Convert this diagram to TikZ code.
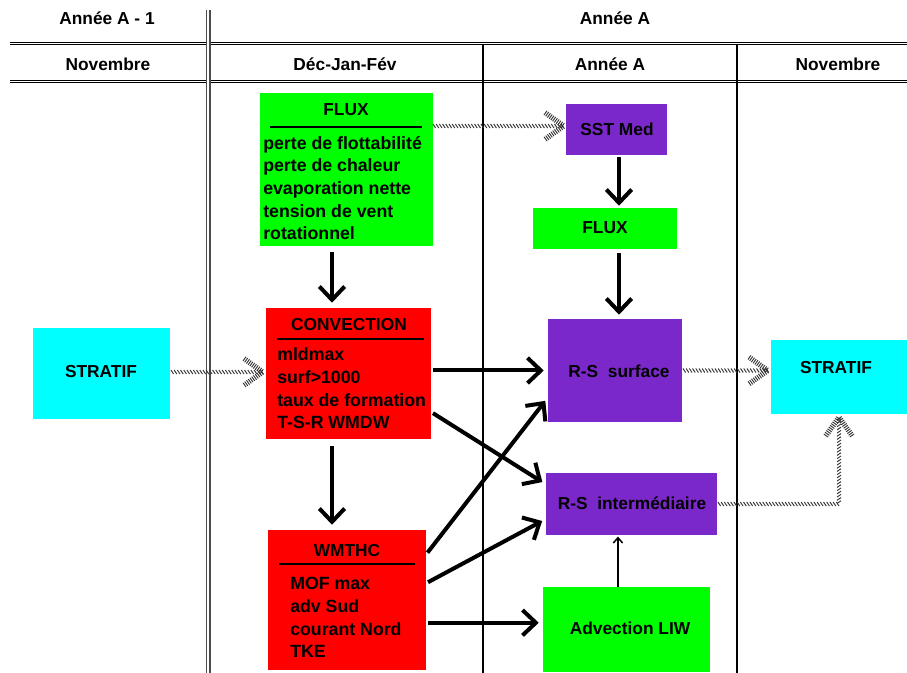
\documentclass[tikz,border=0pt]{standalone}
\usepackage{fontspec}
\setmainfont{Liberation Sans}
\usetikzlibrary{arrows.meta,decorations.markings,calc}
\definecolor{cgreen}{RGB}{0,255,0}
\definecolor{cred}{RGB}{255,0,0}
\definecolor{cpurple}{RGB}{123,40,202}
\definecolor{ccyan}{RGB}{0,255,255}

\begin{document}
\begin{tikzpicture}[x=0.75pt, y=-0.75pt,
		every node/.style={font=\fontsize{13}{17}\selectfont\bfseries, inner sep=0pt},
		boxsize/.style 2 args={minimum width=#1*0.75pt, minimum height=#2*0.75pt},
		greenbox/.style={shape=rectangle, fill=cgreen},
		redbox/.style={shape=rectangle, fill=cred},
		purplebox/.style={shape=rectangle, fill=cpurple},
		cyanbox/.style={shape=rectangle, fill=ccyan},
		head/.style={font=\fontsize{13}{15}\selectfont\bfseries},
		body/.style={anchor=west, align=left, font=\fontsize{13.3}{17}\selectfont\bfseries},
		rule/.style={line width=1.1pt},
		bigarrow/.style={line width=3pt, -{Straight Barb[length=10pt, width=19pt]}},
		thinarrow/.style={line width=1.1pt, -{Straight Barb[length=4pt, width=7pt]}},
		hatch/.style={decorate, decoration={markings,
			mark=between positions 0 and 1 step 2.4pt with {\draw[black!80, line width=0.7pt] (-1pt,1.5pt) -- (1pt,-1.5pt);},
			mark=at position 1 with {\draw[black!80, line width=4pt, dash pattern=on 0.7pt off 0.9pt] (-14pt,10pt) -- (0,0) -- (-14pt,-10pt);}}}
	]
			\useasboundingbox (0,0) rectangle (907,673);
			\draw[double, double distance=0.8pt, line width=0.6pt] (10,43.5) -- (907,43.5);
			\draw[double, double distance=0.8pt, line width=0.6pt] (10,81.5) -- (907,81.5);
			\draw[black!70, double, double distance=1.6pt, line width=0.9pt] (208.4,10) -- (208.4,673);
			\draw[line width=1pt] (483,44) -- (483,673);
			\draw[line width=1pt] (737,44) -- (737,673);
			\node[head](HAnPrev) at (107,18){Année A - 1};
			\node[head](HAn) at (615,18){Année A};
			\node[head](HNovPrev) at (108,64){Novembre};
			\node[head](HDJF) at (345,64){Déc-Jan-Fév};
			\node[head](HAnMid) at (610,64){Année A};
			\node[head](HNov) at (838,64){Novembre};
			\node[greenbox, boxsize={173}{153}](Flux) at (346.5,169.5){};
			\node(FluxT) at (346,110){FLUX};
			\node[body](FluxB) at (263,188){perte de flottabilité\\perte de chaleur\\evaporation nette\\tension de vent\\rotationnel};
			\draw[rule] (270,127) -- (422,127);
			\node[purplebox, boxsize={101}{51}](SST) at (616.5,129.5){};
			\node(SSTT) at (617,129){SST Med};
			\node[greenbox, boxsize={144}{41}](FluxS) at (605,228.5){};
			\node(FluxST) at (605,228){FLUX};
			\node[redbox, boxsize={165}{131}](Conv) at (348.5,373.5){};
			\node(ConvT) at (349,325){CONVECTION};
			\node[body](ConvB) at (277,388.5){mldmax\\surf>1000\\taux de formation\\T-S-R WMDW};
			\draw[rule] (277,339) -- (424,339);
			\node[cyanbox, boxsize={137}{91}](StratL) at (101.5,373.5){};
			\node(StratLT) at (101,372){STRATIF};
			\node[purplebox, boxsize={134}{103}](RsSurf) at (615,370.5){};
			\node(RsSurfT) at (619,371){R-S~~surface};
			\node[cyanbox, boxsize={136}{74}](StratR) at (839,377){};
			\node(StratRT) at (836,368){STRATIF};
			\node[purplebox, boxsize={171}{62}](RsInt) at (631.5,504){};
			\node(RsIntT) at (632,503){R-S~~intermédiaire};
			\node[redbox, boxsize={158}{140}](Wmthc) at (347,600){};
			\node(WmthcT) at (347,551){WMTHC};
			\node[body](WmthcB) at (290,617.5){MOF max\\adv Sud\\courant Nord\\TKE};
			\draw[rule] (279,564) -- (415,564);
			\node[greenbox, boxsize={167}{85}](Adv) at (626.5,629.5){};
			\node(AdvT) at (630,628){Advection LIW};
			\draw[bigarrow] ($(Flux.south)+(-14.5,6)$) -- ($(Conv.north)+(-16.5,-5)$);
			\draw[bigarrow] ($(Conv.south)+(-16.5,7)$) -- ($(Wmthc.north)+(-15,-5)$);
			\draw[bigarrow] ($(SST.south)+(2.5,2)$) -- ($(FluxS.north)+(14,-2)$);
			\draw[bigarrow] ($(FluxS.south)+(14,4)$) -- ($(RsSurf.north)+(4,-4)$);
			\draw[bigarrow, shorten <=1.5pt, shorten >=3pt] (Conv.east |- RsSurf.west) -- (RsSurf.west);
			\draw[bigarrow, shorten <=1.5pt, shorten >=3pt] (Conv.-25.6) -- (RsInt.167.5);
			\draw[bigarrow, shorten <=1.5pt, shorten >=3pt] (Wmthc.30.7) -- (RsSurf.-158.4);
			\draw[bigarrow, shorten <=1.5pt, shorten >=3pt] (Wmthc.12.8) -- (RsInt.190);
			\draw[bigarrow, shorten <=1.5pt, shorten >=3pt] (Wmthc.-16.2) -- (Wmthc.-16.2 -| Adv.west);
			\draw[thinarrow, shorten >=1pt] ([xshift=-6.4pt]Adv.north) -- ([xshift=-6.4pt]Adv.north |- RsInt.south);
			\coordinate (FluxOut) at ($(Flux.east)+(1,-43.5)$);
			\path[hatch] (FluxOut) -- ($(FluxOut -| SST.west)+(-2,0)$);
			\path[hatch] ($(StratL.east)+(2,-1.5)$) -- ($(StratL.east -| Conv.west)+(-3,-1.5)$);
			\path[hatch] ($(RsSurf.east)+(2,0)$) -- ($(RsSurf.east -| StratR.west)+(-3,0)$);
			\path[hatch] ($(RsInt.east)+(2,0)$) -| ($(StratR.south)+(0,3)$);
		\end{tikzpicture}
\end{document}
